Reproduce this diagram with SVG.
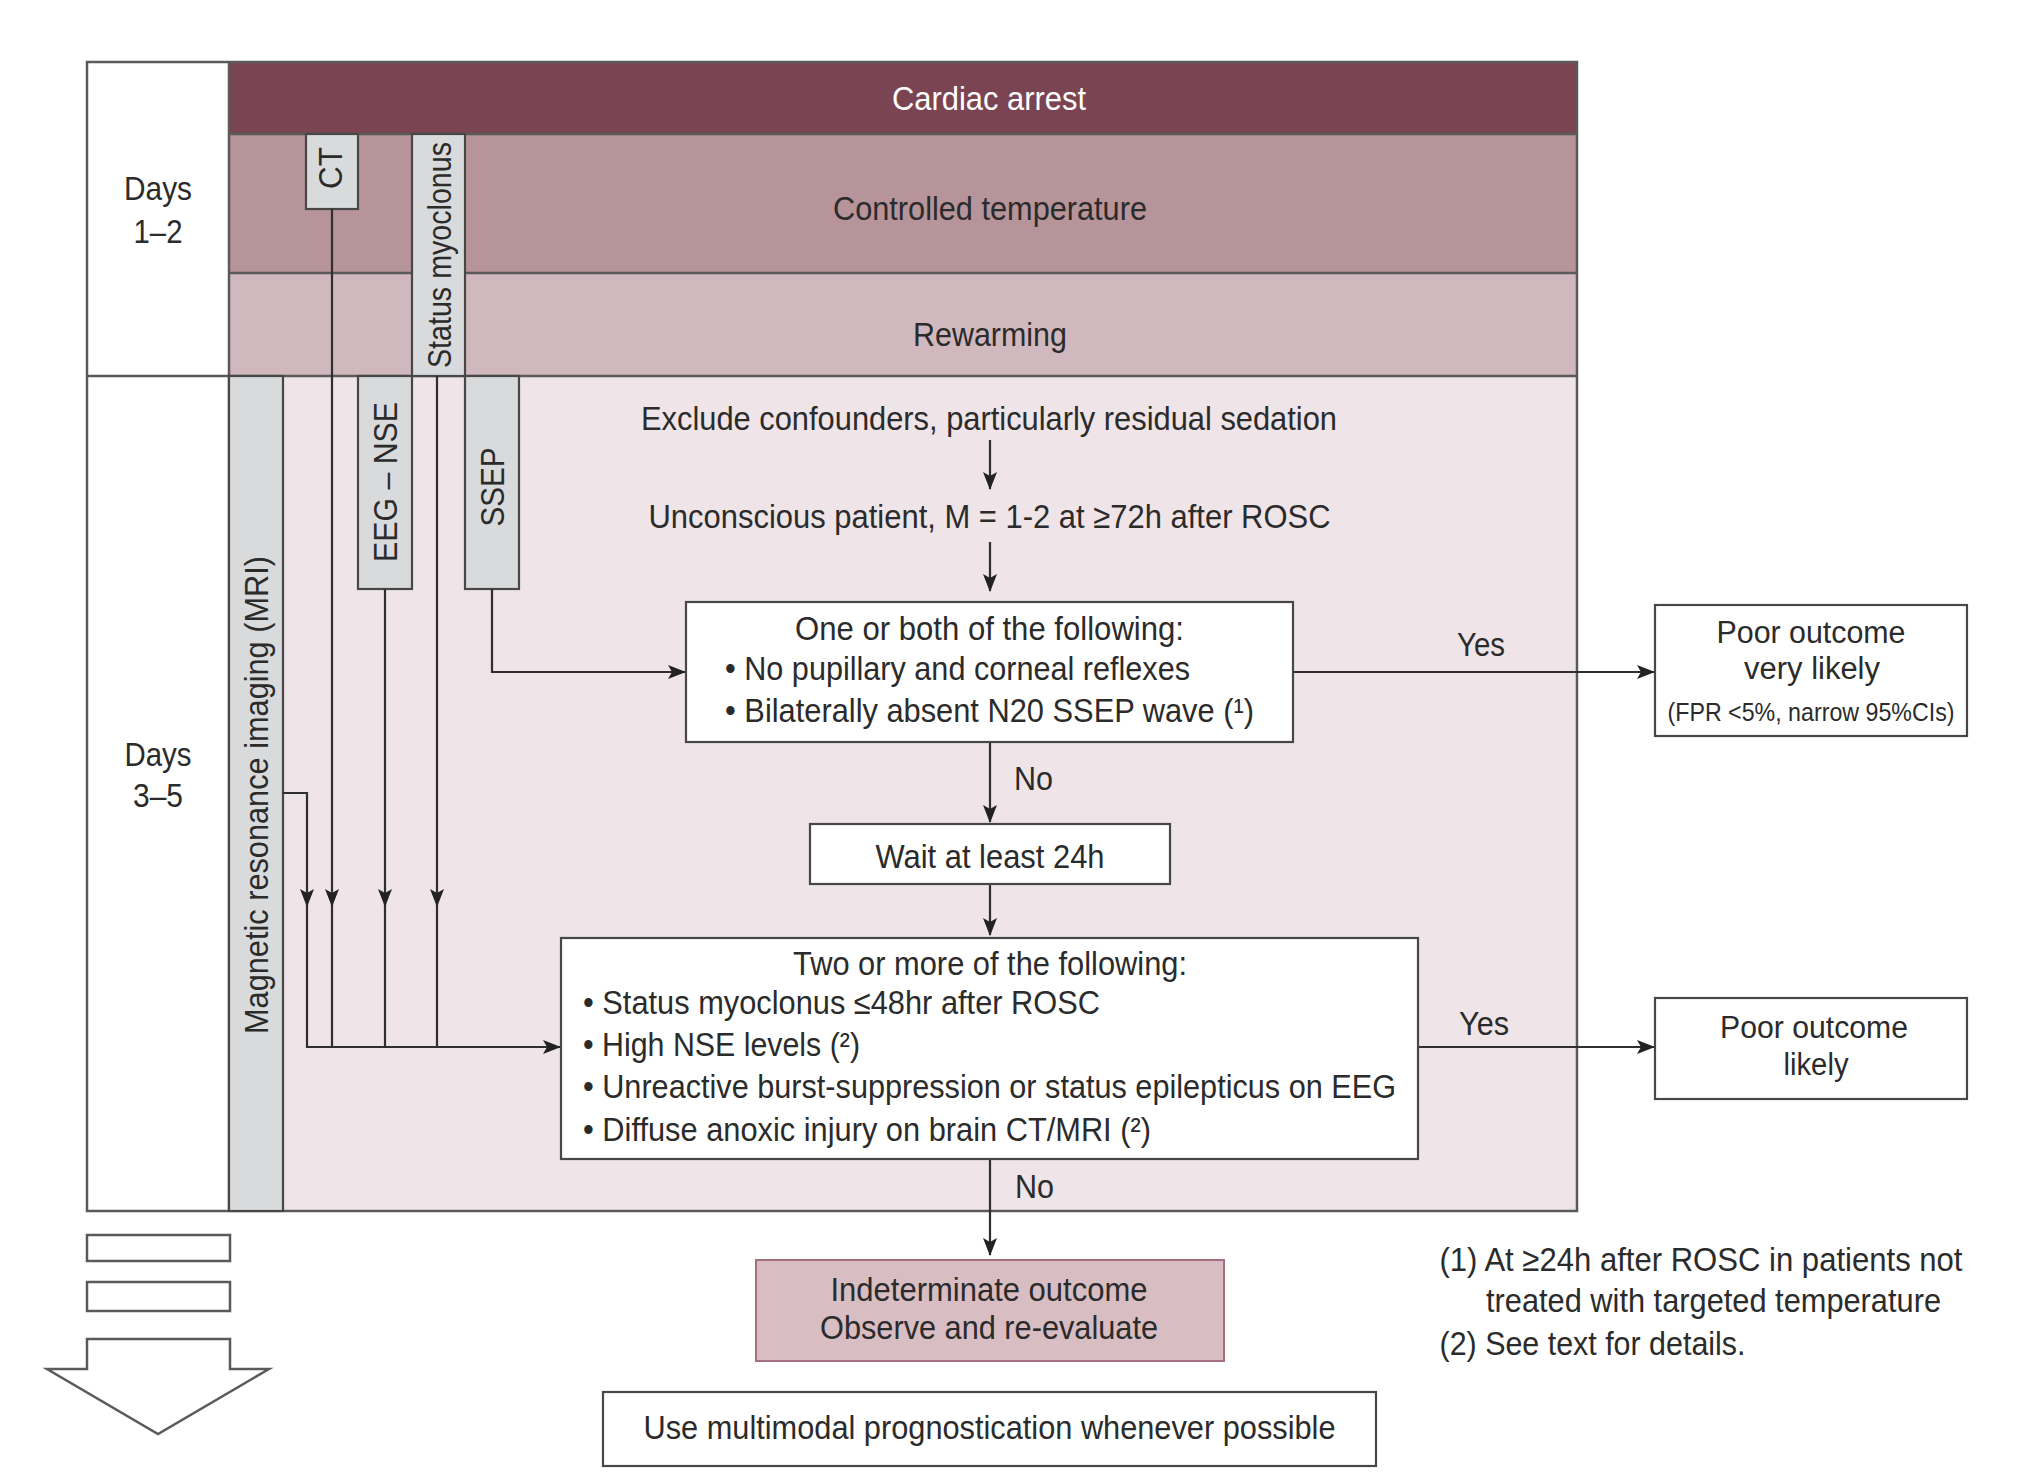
<svg xmlns="http://www.w3.org/2000/svg" width="2024" height="1476" viewBox="0 0 2024 1476">
<defs>
<style>
text { font-family: "Liberation Sans", Arial, sans-serif; font-size: 34px; fill: #2b2b2b; }
.c { text-anchor: middle; }
.w { fill: #ffffff; }
.sm { font-size: 26px; }
.md { font-size: 31px; }
.box { fill: #ffffff; stroke: #474747; stroke-width: 2.2; }
.bar { fill: #d9dadc; stroke: #474747; stroke-width: 2.2; }
.ln { fill: none; stroke: #2f2f2f; stroke-width: 2.2; }
.arr { fill: none; stroke: #2f2f2f; stroke-width: 2.2; marker-end: url(#ah); }
.frame { fill: none; stroke: #5a5a5a; stroke-width: 2.5; }
</style>
<marker id="ah" viewBox="0 0 18 14" refX="17" refY="7" markerWidth="18" markerHeight="14" markerUnits="userSpaceOnUse" orient="auto"><path d="M0,0 L18,7 L0,14 L4,7 Z" fill="#222222"/></marker>
</defs>
<rect x="0" y="0" width="2024" height="1476" fill="#ffffff"/>
<g id="frame">
<rect x="87" y="62" width="142" height="1149" fill="#ffffff"/>
<rect x="229" y="376" width="1348" height="835" fill="#efe4e8"/>
<rect x="229" y="62" width="1348" height="72" fill="#7a4452"/>
<rect x="229" y="134" width="1348" height="139" fill="#b69499"/>
<rect x="229" y="273" width="1348" height="103" fill="#d1b8be"/>
<line x1="229" y1="134" x2="1577" y2="134" class="frame"/>
<line x1="229" y1="273" x2="1577" y2="273" class="frame"/>
<line x1="87" y1="376" x2="1577" y2="376" class="frame"/>
<line x1="229" y1="62" x2="229" y2="1211" class="frame"/>
<rect x="87" y="62" width="1490" height="1149" class="frame"/>
</g>
<g id="cardiac-arrest"><text x="989" y="110" class="c w" textLength="194" lengthAdjust="spacingAndGlyphs">Cardiac arrest</text></g>
<g id="controlled-temperature"><text x="990" y="220" class="c" textLength="314" lengthAdjust="spacingAndGlyphs">Controlled temperature</text></g>
<g id="rewarming"><text x="990" y="346" class="c" textLength="154" lengthAdjust="spacingAndGlyphs">Rewarming</text></g>
<g id="days-1-2">
<text x="158" y="200" class="c" textLength="68" lengthAdjust="spacingAndGlyphs">Days</text>
<text x="158" y="243" class="c" textLength="49" lengthAdjust="spacingAndGlyphs">1–2</text>
</g>
<g id="days-3-5">
<text x="158" y="766" class="c" textLength="67" lengthAdjust="spacingAndGlyphs">Days</text>
<text x="158" y="807" class="c" textLength="50" lengthAdjust="spacingAndGlyphs">3–5</text>
</g>
<g id="ct">
<rect x="306" y="134" width="52" height="75" class="bar"/>
<text transform="translate(330,168) rotate(-90)" x="0" y="12" class="c" textLength="42" lengthAdjust="spacingAndGlyphs">CT</text>
</g>
<g id="status-myoclonus">
<rect x="412" y="134" width="53" height="242" class="bar"/>
<text transform="translate(438.5,255) rotate(-90)" x="0" y="12" class="c" textLength="226" lengthAdjust="spacingAndGlyphs">Status myoclonus</text>
</g>
<g id="mri">
<rect x="229" y="376" width="54" height="835" class="bar"/>
<text transform="translate(256,795) rotate(-90)" x="0" y="12" class="c" textLength="478" lengthAdjust="spacingAndGlyphs">Magnetic resonance imaging (MRI)</text>
</g>
<g id="eeg-nse">
<rect x="358" y="376" width="54" height="213" class="bar"/>
<text transform="translate(385,482) rotate(-90)" x="0" y="12" class="c" textLength="160" lengthAdjust="spacingAndGlyphs">EEG – NSE</text>
</g>
<g id="ssep">
<rect x="465" y="376" width="54" height="213" class="bar"/>
<text transform="translate(492,487) rotate(-90)" x="0" y="12" class="c" textLength="79" lengthAdjust="spacingAndGlyphs">SSEP</text>
</g>
<g id="connectors">
<path d="M283,793 H307 V906" class="arr"/>
<path d="M307,905 V1047 H560" class="arr"/>
<path d="M332,209 V906" class="arr"/>
<path d="M332,905 V1047" class="ln"/>
<path d="M385,589 V906" class="arr"/>
<path d="M385,905 V1047" class="ln"/>
<path d="M437,376 V906" class="arr"/>
<path d="M437,905 V1047" class="ln"/>
<path d="M492,589 V672 H685" class="arr"/>
<path d="M990,440 V489" class="arr"/>
<path d="M990,542 V591" class="arr"/>
<path d="M990,742 V822" class="arr"/>
<path d="M990,884 V935" class="arr"/>
<path d="M990,1159 V1255" class="arr"/>
<path d="M1293,672 H1654" class="arr"/>
<path d="M1418,1047 H1654" class="arr"/>
<text x="1457" y="656" textLength="48" lengthAdjust="spacingAndGlyphs">Yes</text>
<text x="1459" y="1035" textLength="50" lengthAdjust="spacingAndGlyphs">Yes</text>
<text x="1014" y="790" textLength="39" lengthAdjust="spacingAndGlyphs">No</text>
<text x="1015" y="1198" textLength="39" lengthAdjust="spacingAndGlyphs">No</text>
</g>
<g id="exclude-confounders"><text x="989" y="430" class="c" textLength="696" lengthAdjust="spacingAndGlyphs">Exclude confounders, particularly residual sedation</text></g>
<g id="unconscious-patient"><text x="989.5" y="528" class="c" textLength="682" lengthAdjust="spacingAndGlyphs">Unconscious patient, M = 1-2 at ≥72h after ROSC</text></g>
<g id="one-or-both">
<rect x="686" y="602" width="607" height="140" class="box"/>
<text x="989.5" y="640" class="c" textLength="389" lengthAdjust="spacingAndGlyphs">One or both of the following:</text>
<text x="725" y="680" textLength="465" lengthAdjust="spacingAndGlyphs">• No pupillary and corneal reflexes</text>
<text x="725" y="722" textLength="529" lengthAdjust="spacingAndGlyphs">• Bilaterally absent N20 SSEP wave (¹)</text>
</g>
<g id="poor-outcome-very-likely">
<rect x="1655" y="605" width="312" height="131" class="box"/>
<text x="1811" y="643" class="c md" textLength="189" lengthAdjust="spacingAndGlyphs">Poor outcome</text>
<text x="1812" y="679" class="c md" textLength="136" lengthAdjust="spacingAndGlyphs">very likely</text>
<text x="1811" y="721" class="c sm" textLength="287" lengthAdjust="spacingAndGlyphs">(FPR &lt;5%, narrow 95%CIs)</text>
</g>
<g id="wait-24h">
<rect x="810" y="824" width="360" height="60" class="box"/>
<text x="990" y="868" class="c" textLength="229" lengthAdjust="spacingAndGlyphs">Wait at least 24h</text>
</g>
<g id="two-or-more">
<rect x="561" y="938" width="857" height="221" class="box"/>
<text x="990" y="975" class="c" textLength="394" lengthAdjust="spacingAndGlyphs">Two or more of the following:</text>
<text x="583" y="1014" textLength="517" lengthAdjust="spacingAndGlyphs">• Status myoclonus ≤48hr after ROSC</text>
<text x="583" y="1056" textLength="277" lengthAdjust="spacingAndGlyphs">• High NSE levels (²)</text>
<text x="583" y="1098" textLength="813" lengthAdjust="spacingAndGlyphs">• Unreactive burst-suppression or status epilepticus on EEG</text>
<text x="583" y="1141" textLength="568" lengthAdjust="spacingAndGlyphs">• Diffuse anoxic injury on brain CT/MRI (²)</text>
</g>
<g id="poor-outcome-likely">
<rect x="1655" y="998" width="312" height="101" class="box"/>
<text x="1814" y="1038" class="c md" textLength="188" lengthAdjust="spacingAndGlyphs">Poor outcome</text>
<text x="1816" y="1075" class="c md" textLength="65" lengthAdjust="spacingAndGlyphs">likely</text>
</g>
<g id="indeterminate">
<rect x="756" y="1260" width="468" height="101" fill="#d8bdc3" stroke="#a5707e" stroke-width="2"/>
<text x="989" y="1301" class="c" textLength="317" lengthAdjust="spacingAndGlyphs">Indeterminate outcome</text>
<text x="989" y="1339" class="c" textLength="338" lengthAdjust="spacingAndGlyphs">Observe and re-evaluate</text>
</g>
<g id="multimodal">
<rect x="603" y="1392" width="773" height="74" class="box"/>
<text x="989.5" y="1439" class="c" textLength="692" lengthAdjust="spacingAndGlyphs">Use multimodal prognostication whenever possible</text>
</g>
<g id="footnotes">
<text x="1439.5" y="1271" textLength="523" lengthAdjust="spacingAndGlyphs">(1) At ≥24h after ROSC in patients not</text>
<text x="1486" y="1312" textLength="455" lengthAdjust="spacingAndGlyphs">treated with targeted temperature</text>
<text x="1439.5" y="1355" textLength="306" lengthAdjust="spacingAndGlyphs">(2) See text for details.</text>
</g>
<g id="time-arrow">
<rect x="87" y="1235" width="143" height="26" fill="#ffffff" class="frame"/>
<rect x="87" y="1282" width="143" height="29" fill="#ffffff" class="frame"/>
<polygon points="87,1339 230,1339 230,1369 269,1369 158,1434 47,1369 87,1369" fill="#ffffff" class="frame"/>
</g>
</svg>
